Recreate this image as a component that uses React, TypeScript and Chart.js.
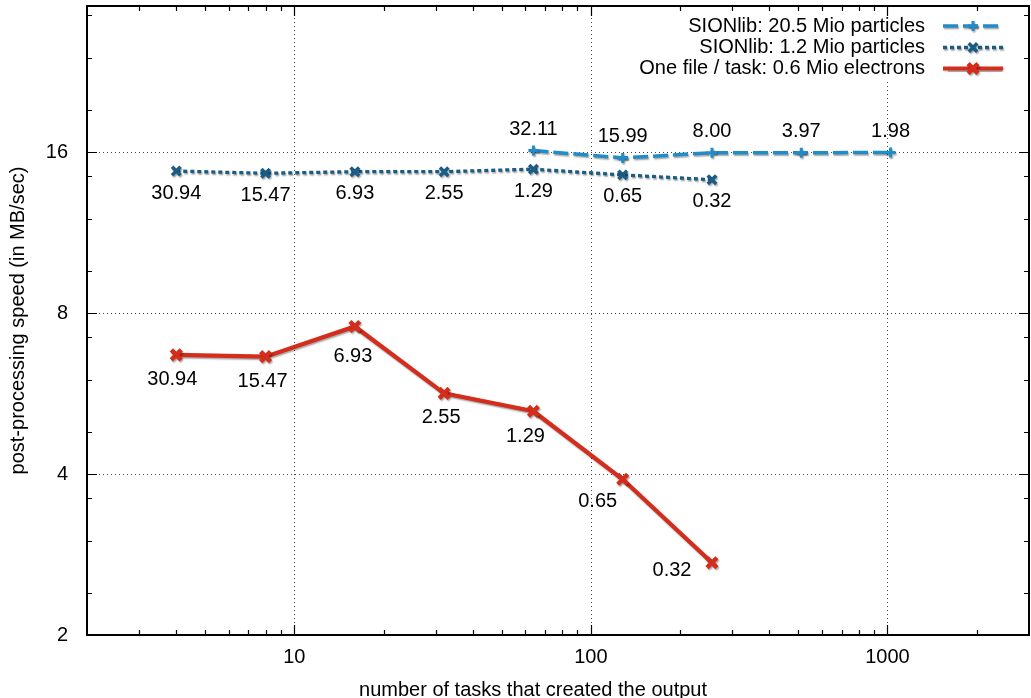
import React, { useEffect, useRef } from 'react';
import { Chart, registerables } from 'chart.js';
Chart.register(...registerables);

// ---- data ----
const seriesNames = [
  'SIONlib: 20.5 Mio particles',
  'SIONlib: 1.2 Mio particles',
  'One file / task: 0.6 Mio electrons',
];
const tasksBig = [64, 128, 256, 512, 1024];
const speedBig = [16.1, 15.6, 15.95, 15.95, 15.97];
const labelsBig = ['32.11', '15.99', '8.00', '3.97', '1.98'];

const tasksSmall = [4, 8, 16, 32, 64, 128, 256];
const speedSmall = [14.74, 14.6, 14.7, 14.7, 14.86, 14.5, 14.2];
const labelsSmall = ['30.94', '15.47', '6.93', '2.55', '1.29', '0.65', '0.32'];

const tasksOne = [4, 8, 16, 32, 64, 128, 256];
const speedOne = [6.68, 6.63, 7.55, 5.66, 5.24, 3.91, 2.73];
const labelsOne = ['30.94', '15.47', '6.93', '2.55', '1.29', '0.65', '0.32'];

const xMajorTicks = [10, 100, 1000];
const xMinorTicks = [3, 4, 5, 6, 7, 8, 9, 20, 30, 40, 50, 60, 70, 80, 90, 200, 300, 400, 500, 600, 700, 800, 900, 2000];
const yMajorTicks = [2, 4, 8, 16];
const yMinorTicks = [2.4, 3, 3.6, 4.8, 6, 7.2, 9.6, 12, 14.4, 19.2, 24, 28.8];

const xTitle = 'number of tasks that created the output';
const yTitle = 'post-processing speed (in MB/sec)';

// ---- style ----
const FONT = '20px "Liberation Sans", Arial, sans-serif';
const colors = ['#228cc8', '#1b5c85', '#d42d1b'];
const labelOffsetsBig = tasksBig.map(() => [0, -21]);
const labelOffsetsSmall = tasksSmall.map(() => [0, 22]);
const labelOffsetsOne = [[-4, 24.5], [-3, 25], [-2, 30], [-3, 24], [-8, 25], [-25, 22], [-40, 8]];

const toPts = (xs: number[], ys: number[]) => xs.map((x, i) => ({ x, y: ys[i] }));

const gnuplotPlugin = {
  id: 'gnuplotDecor',
  beforeDatasetsDraw(chart: any) {
    const { ctx, chartArea: a, scales } = chart;
    const xs = scales.x, ys = scales.y;
    ctx.save();
    // grid
    ctx.strokeStyle = '#444';
    ctx.lineWidth = 1;
    ctx.setLineDash([1, 3]);
    for (const v of xMajorTicks) {
      const px = Math.round(xs.getPixelForValue(v)) + 0.5;
      ctx.beginPath(); ctx.moveTo(px, a.top); ctx.lineTo(px, a.bottom); ctx.stroke();
    }
    for (const v of yMajorTicks) {
      const py = Math.round(ys.getPixelForValue(v)) + 0.5;
      ctx.beginPath(); ctx.moveTo(a.left, py); ctx.lineTo(a.right, py); ctx.stroke();
    }
    ctx.setLineDash([]);
    // legend background
    ctx.fillStyle = '#fff';
    ctx.fillRect(615, a.top + 2, a.right - 617, 73);
    // ticks
    ctx.strokeStyle = '#000';
    ctx.lineWidth = 1.2;
    const tick = (len: number) => (v: number, axis: 'x' | 'y') => {
      if (axis === 'x') {
        const px = Math.round(xs.getPixelForValue(v)) + 0.5;
        ctx.beginPath();
        ctx.moveTo(px, a.bottom); ctx.lineTo(px, a.bottom - len);
        ctx.moveTo(px, a.top); ctx.lineTo(px, a.top + len);
        ctx.stroke();
      } else {
        const py = Math.round(ys.getPixelForValue(v)) + 0.5;
        ctx.beginPath();
        ctx.moveTo(a.left, py); ctx.lineTo(a.left + len, py);
        ctx.moveTo(a.right, py); ctx.lineTo(a.right - len, py);
        ctx.stroke();
      }
    };
    const major = tick(10), minor = tick(5);
    xMajorTicks.forEach(v => major(v, 'x'));
    xMinorTicks.forEach(v => minor(v, 'x'));
    yMajorTicks.forEach(v => major(v, 'y'));
    yMinorTicks.forEach(v => minor(v, 'y'));
    // border
    ctx.lineWidth = 2;
    ctx.strokeRect(a.left, a.top, a.right - a.left, a.bottom - a.top);
    ctx.restore();
  },
  beforeDatasetDraw(chart: any) {
    const ctx = chart.ctx;
    ctx.save();
    ctx.shadowColor = 'rgba(0,0,0,0.35)';
    ctx.shadowOffsetX = 1;
    ctx.shadowOffsetY = 1.5;
    ctx.shadowBlur = 1.5;
  },
  afterDatasetDraw(chart: any) {
    chart.ctx.restore();
  },
  afterDatasetsDraw(chart: any) {
    const { ctx } = chart;
    ctx.save();
    ctx.font = FONT;
    ctx.fillStyle = '#000';
    ctx.textAlign = 'center';
    ctx.textBaseline = 'middle';
    const labelSets = [
      [labelsBig, labelOffsetsBig],
      [labelsSmall, labelOffsetsSmall],
      [labelsOne, labelOffsetsOne],
    ] as any[];
    chart.data.datasets.forEach((ds: any, di: number) => {
      const meta = chart.getDatasetMeta(di);
      const [labs, offs] = labelSets[di];
      meta.data.forEach((pt: any, i: number) => {
        ctx.fillText(labs[i], pt.x + offs[i][0], pt.y + offs[i][1]);
      });
    });
    // legend
    const rows = [26, 47.5, 68.5];
    chart.data.datasets.forEach((ds: any, di: number) => {
      const y = rows[di];
      ctx.textAlign = 'right';
      ctx.fillStyle = '#000';
      ctx.fillText(ds.label, 925, y);
      ctx.save();
      ctx.shadowColor = 'rgba(0,0,0,0.35)';
      ctx.shadowOffsetX = 1;
      ctx.shadowOffsetY = 1.5;
      ctx.shadowBlur = 1.5;
      ctx.strokeStyle = ds.borderColor;
      ctx.lineWidth = ds.borderWidth;
      ctx.setLineDash(ds.borderDash || []);
      ctx.beginPath(); ctx.moveTo(943, y); ctx.lineTo(1003, y); ctx.stroke();
      ctx.setLineDash([]);
      ctx.lineWidth = ds.pointBorderWidth;
      const r = ds.pointRadius;
      ctx.beginPath();
      if (ds.pointStyle === 'cross') {
        ctx.moveTo(973 - r, y); ctx.lineTo(973 + r, y);
        ctx.moveTo(973, y - r); ctx.lineTo(973, y + r);
      } else {
        const d = r * Math.SQRT1_2;
        ctx.moveTo(973 - d, y - d); ctx.lineTo(973 + d, y + d);
        ctx.moveTo(973 - d, y + d); ctx.lineTo(973 + d, y - d);
      }
      ctx.stroke();
      ctx.restore();
    });
    // axis titles
    ctx.textAlign = 'center';
    ctx.textBaseline = 'alphabetic';
    ctx.fillText(xTitle, 533, 696);
    ctx.save();
    ctx.translate(24, (chart.chartArea.top + chart.chartArea.bottom) / 2);
    ctx.rotate(-Math.PI / 2);
    ctx.fillText(yTitle, 0, 0);
    ctx.restore();
    ctx.restore();
  },
};

const zeroPad = (s: any) => {
  s.paddingTop = 0;
  s.paddingBottom = 0;
  s.paddingLeft = 0;
  s.paddingRight = 0;
};

export default function App() {
  const ref = useRef<HTMLCanvasElement>(null);
  useEffect(() => {
    if (!ref.current) return;
    Chart.defaults.font.family = '"Liberation Sans", Arial, sans-serif';
    const chart = new Chart(ref.current, {
      type: 'line',
      data: {
        datasets: [
          {
            label: seriesNames[0],
            data: toPts(tasksBig, speedBig),
            borderColor: colors[0],
            backgroundColor: colors[0],
            borderWidth: 3.5,
            borderDash: [15, 5],
            pointStyle: 'cross',
            pointRadius: 5,
            pointBorderWidth: 3,
            pointBorderColor: colors[0],
            fill: false,
          },
          {
            label: seriesNames[1],
            data: toPts(tasksSmall, speedSmall),
            borderColor: colors[1],
            backgroundColor: colors[1],
            borderWidth: 3.3,
            borderDash: [4, 3],
            pointStyle: 'crossRot',
            pointRadius: 6,
            pointBorderWidth: 3.5,
            pointBorderColor: colors[1],
            fill: false,
          },
          {
            label: seriesNames[2],
            data: toPts(tasksOne, speedOne),
            borderColor: colors[2],
            backgroundColor: colors[2],
            borderWidth: 4.2,
            pointStyle: 'crossRot',
            pointRadius: 7,
            pointBorderWidth: 4.5,
            pointBorderColor: colors[2],
            fill: false,
          },
        ] as any,
      },
      plugins: [gnuplotPlugin],
      options: {
        animation: false,
        responsive: false,
        devicePixelRatio: 1,
        layout: { autoPadding: false, padding: { top: 6, right: 2, left: 0, bottom: 0 } },
        plugins: { legend: { display: false }, tooltip: { enabled: false } },
        scales: {
          x: {
            type: 'logarithmic',
            min: 2,
            max: 3000,
            afterBuildTicks: (s: any) => { s.ticks = xMajorTicks.map(v => ({ value: v })); },
            afterFit: (s: any) => { s.height = 63; zeroPad(s); },
            ticks: {
              autoSkip: false,
              maxRotation: 0,
              padding: 10,
              color: '#000',
              font: { size: 20 },
              callback: (v: any) => String(v),
            },
            grid: { display: false, drawTicks: false },
            border: { display: false },
          },
          y: {
            type: 'logarithmic',
            min: 2,
            max: 30,
            afterBuildTicks: (s: any) => { s.ticks = yMajorTicks.map(v => ({ value: v })); },
            afterFit: (s: any) => { s.width = 87; zeroPad(s); },
            ticks: {
              autoSkip: false,
              padding: 19,
              color: '#000',
              font: { size: 20 },
              callback: (v: any) => String(v),
            },
            grid: { display: false, drawTicks: false },
            border: { display: false },
          },
        },
      },
    });
    return () => chart.destroy();
  }, []);
  return (
    <div style={{ position: 'absolute', left: 0, top: 0, width: 1031, height: 698, background: '#fff' }}>
      <canvas ref={ref} width={1031} height={698} style={{ display: 'block' }} />
    </div>
  );
}
